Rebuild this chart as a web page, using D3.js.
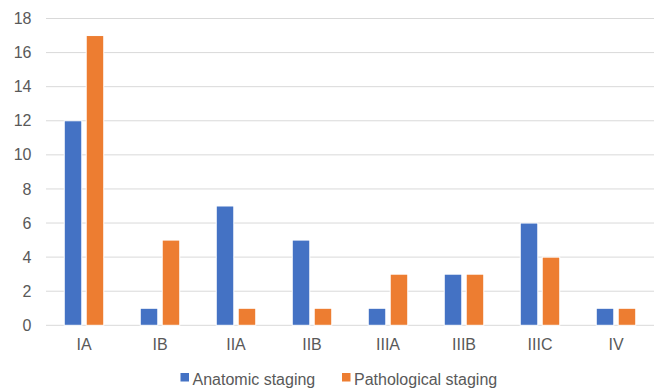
<!DOCTYPE html>
<html>
<head>
<meta charset="utf-8">
<script src="https://cdn.jsdelivr.net/npm/d3@7/dist/d3.min.js"></script>
<style>
  html, body { margin: 0; padding: 0; background: #fff; }
  svg { display: block; font-family: "Liberation Sans", Arial, sans-serif; }
</style>
</head>
<body>
<svg id="chart" width="654" height="388"></svg>
<script>
// Staging categories and case counts per staging system
const categories = ["IA", "IB", "IIA", "IIB", "IIIA", "IIIB", "IIIC", "IV"];
const seriesNames = ["Anatomic staging", "Pathological staging"];
const anatomic = [12, 1, 7, 5, 1, 3, 6, 1];
const pathological = [17, 5, 1, 1, 3, 3, 4, 1];
const yTicks = [0, 2, 4, 6, 8, 10, 12, 14, 16, 18];
const colors = ["#4472C4", "#ED7D31"];

const seriesValues = [anatomic, pathological];
const textColor = "#595959";
const fontFamily = "Liberation Sans, Arial, sans-serif";

const svg = d3.select("#chart");
const plotLeft = 46, plotRight = 654, plotTop = 18.5, plotBottom = 325.3;

const x0 = d3.scaleBand().domain(categories).range([plotLeft, plotRight]).padding(0);
const x1 = d3.scaleBand().domain(seriesNames).range([0, x0.bandwidth()])
  .paddingInner(0.2).paddingOuter(0.83);
const y = d3.scaleLinear().domain([0, 18]).range([plotBottom, plotTop]);

// horizontal gridlines
svg.append("g").selectAll("line").data(yTicks).join("line")
  .attr("x1", plotLeft).attr("x2", plotRight)
  .attr("y1", d => y(d)).attr("y2", d => y(d))
  .attr("stroke", "#d9d9d9").attr("stroke-width", 1);

// y axis labels
const yAxis = d3.axisLeft(y).tickValues(yTicks).tickSize(0).tickPadding(0);
const yg = svg.append("g").attr("transform", `translate(31.5,0)`).call(yAxis);
yg.select(".domain").remove();
yg.selectAll("text").attr("fill", textColor).attr("font-size", 16)
  .attr("font-family", fontFamily);

// x axis labels
const xAxis = d3.axisBottom(x0).tickSize(0).tickPadding(0);
const xg = svg.append("g").attr("transform", `translate(0,${plotBottom})`).call(xAxis);
xg.select(".domain").remove();
xg.selectAll("text").attr("fill", textColor).attr("font-size", 16)
  .attr("font-family", fontFamily).attr("y", 25).attr("dy", null);

// bars
const groups = svg.append("g").selectAll("g").data(categories).join("g")
  .attr("transform", d => `translate(${x0(d)},0)`);
groups.selectAll("rect")
  .data((c, i) => seriesNames.map((s, j) => ({ s, v: seriesValues[j][i], j })))
  .join("rect")
  .attr("x", d => x1(d.s))
  .attr("width", x1.bandwidth())
  .attr("y", d => y(d.v))
  .attr("height", d => y(0) - y(d.v))
  .attr("fill", d => colors[d.j])
  .attr("stroke", "#fff").attr("stroke-width", 1);

// legend
const legendItems = [{ name: seriesNames[0], x: 180.5 }, { name: seriesNames[1], x: 342 }];
const lg = svg.append("g").selectAll("g").data(legendItems).join("g")
  .attr("transform", d => `translate(${d.x},373)`);
lg.append("rect").attr("width", 8.5).attr("height", 8.5)
  .attr("fill", (d, i) => colors[i]);
lg.append("text").attr("x", 12).attr("y", 12)
  .attr("fill", textColor).attr("font-size", 16).attr("font-family", fontFamily)
  .text(d => d.name);
</script>
</body>
</html>
